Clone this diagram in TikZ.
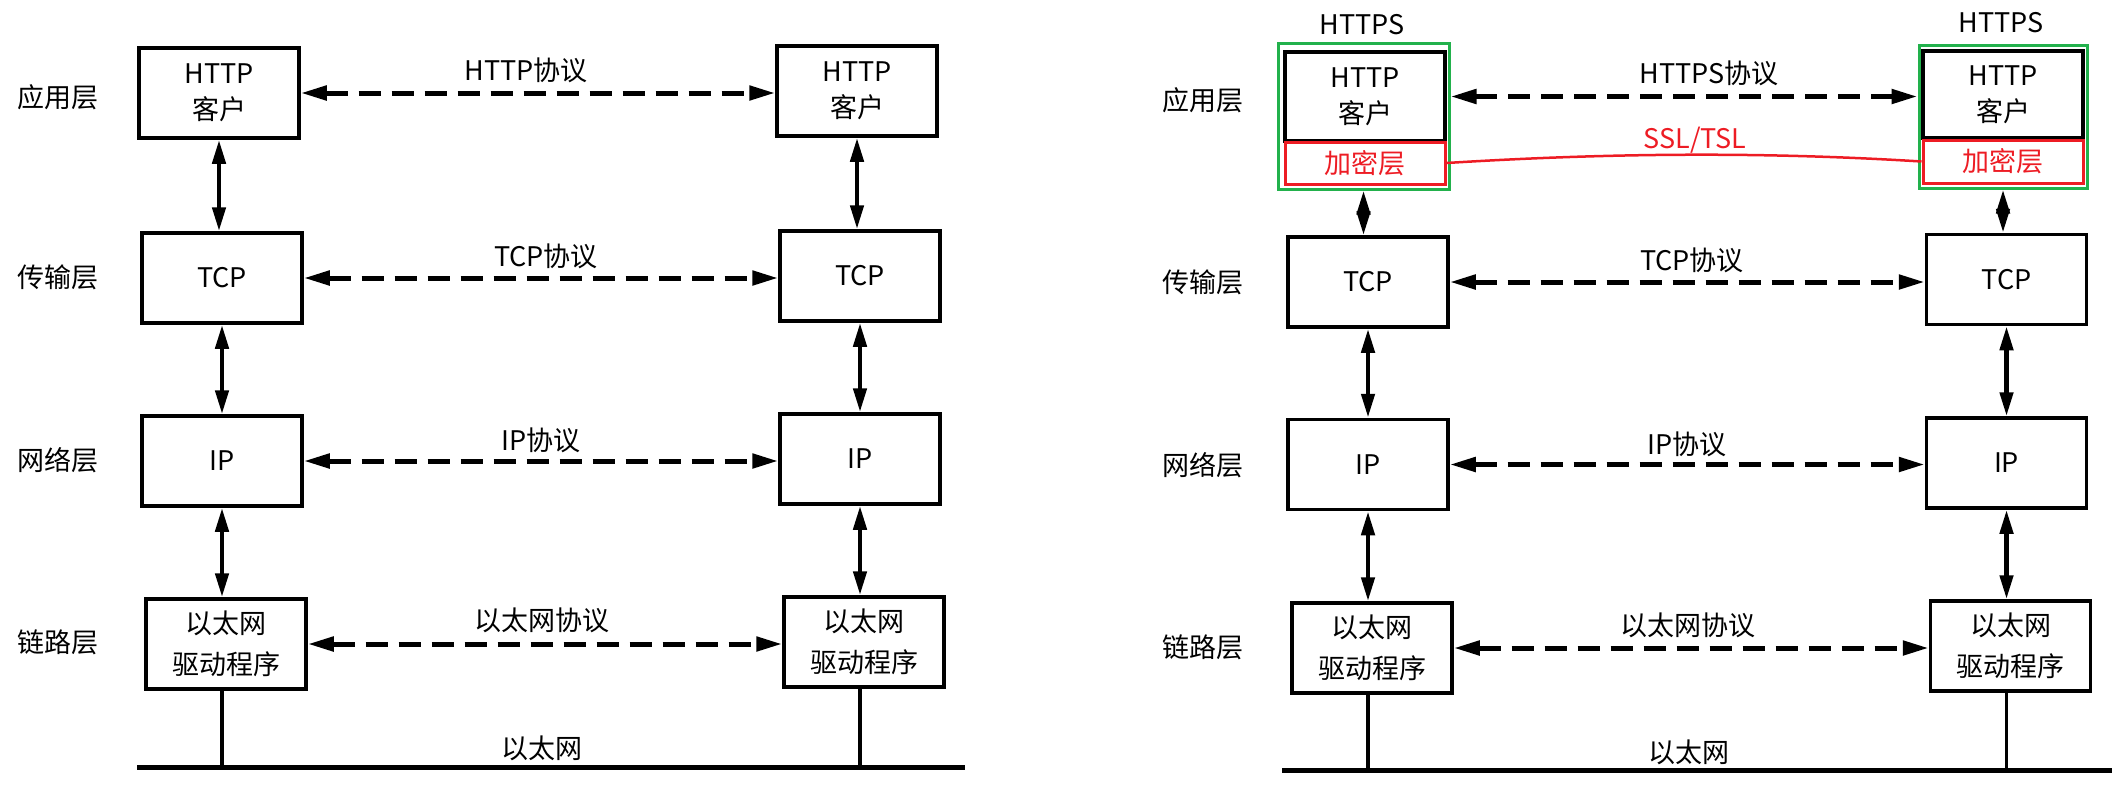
\documentclass[tikz,border=0pt]{standalone}
\usepackage{fontspec}
\setmainfont{Noto Sans CJK SC}
\usetikzlibrary{arrows.meta}
\definecolor{pgreen}{RGB}{34,177,76}
\definecolor{pred}{RGB}{237,28,36}
\newcommand\myfs{\fontsize{27}{36}\selectfont}
\tikzset{
  box/.style={draw, line width=3.5pt, minimum width=160pt, minimum height=90pt, inner sep=0pt, align=center, font=\myfs},
  lbl/.style={inner sep=0pt, font=\myfs},
  varrow/.style={line width=4.5pt, {Triangle[length=24pt,width=13pt]}-{Triangle[length=24pt,width=13pt]}},
  darrow/.style={line width=5pt, dash pattern=on 22pt off 11pt, {Triangle[length=26pt,width=14pt]}-{Triangle[length=26pt,width=14pt]}},
  wire/.style={line width=3.5pt},
  bus/.style={line width=5pt},
  gbox/.style={draw=pgreen, line width=3pt, inner sep=0pt},
  encbox/.style={draw=pred, line width=3pt, minimum width=160pt, minimum height=42pt, inner sep=0pt, text=pred, font=\myfs},
  redline/.style={draw=pred, line width=2.5pt}
}
\begin{document}
\begin{tikzpicture}[x=1pt,y=-1pt]
\useasboundingbox (0,0) rectangle (2120,788);
% ---------- left diagram ----------
\node[lbl] (la1) at (58,97) {应用层};
\node[lbl] (la2) at (58,277) {传输层};
\node[lbl] (la3) at (58,460) {网络层};
\node[lbl] (la4) at (58,642) {链路层};

\node[box] (httpL) at (219,93) {HTTP\\客户};
\node[box] (httpR) at (857,91) {HTTP\\客户};
\node[box] (tcpL) at (222,278) {TCP};
\node[box] (tcpR) at (860,276) {TCP};
\node[box] (ipL) at (222,461) {IP};
\node[box] (ipR) at (860,459) {IP};
\node[box,font=\fontsize{27}{41}\selectfont] (ethL) at (226,644) {以太网\\驱动程序};
\node[box,font=\fontsize{27}{41}\selectfont] (ethR) at (864,642) {以太网\\驱动程序};

\draw[varrow] (httpL.south) -- (httpL.south |- tcpL.north);
\draw[varrow] (httpR.south) -- (httpR.south |- tcpR.north);
\draw[varrow] (tcpL.south) -- (tcpL.south |- ipL.north);
\draw[varrow] (tcpR.south) -- (tcpR.south |- ipR.north);
\draw[varrow] (ipL.south) -- (ipL.south |- ethL.north);
\draw[varrow] (ipR.south) -- (ipR.south |- ethR.north);

\draw[darrow] (httpL.east) -- (httpL.east -| httpR.west);
\draw[darrow] (tcpL.east) -- (tcpL.east -| tcpR.west);
\draw[darrow] (ipL.east) -- (ipL.east -| ipR.west);
\draw[darrow] (ethL.east) -- (ethL.east -| ethR.west);

\node[lbl] (p1) at (526,70) {HTTP协议};
\node[lbl] (p2) at (546,256) {TCP协议};
\node[lbl] (p3) at (541,440) {IP协议};
\node[lbl] (p4) at (542,620) {以太网协议};

\coordinate (busA) at (137,767);
\coordinate (busB) at (965,767);
\draw[bus] (busA) -- (busB);
\draw[wire] (ipL.south |- ethL.south) -- (ipL.south |- busA);
\draw[wire] (ipR.south |- ethR.south) -- (ipR.south |- busA);
\node[lbl] (eth1) at (542,748) {以太网};

% ---------- right diagram ----------
\node[lbl] (lb1) at (1203,100) {应用层};
\node[lbl] (lb2) at (1203,282) {传输层};
\node[lbl] (lb3) at (1203,465) {网络层};
\node[lbl] (lb4) at (1203,647) {链路层};

\node[gbox, minimum width=171pt, minimum height=146pt] (gL) at (1363.5,116) {};
\node[gbox, minimum width=168pt, minimum height=143pt] (gR) at (2003,116.5) {};
\node[box, minimum height=89pt] (hL) at (1365,96.5) {HTTP\\客户};
\node[box, minimum height=87pt] (hR) at (2003,94.5) {HTTP\\客户};
\node[encbox] (eL) at (1365,163) {加密层};
\node[encbox, minimum height=43pt] (eR) at (2003,161.5) {加密层};
\node[lbl] (hsL) at (1362,25) {HTTPS};
\node[lbl] (hsR) at (2001,23) {HTTPS};

\node[box] (t2L) at (1368,282) {TCP};
\node[box] (t2R) at (2006.5,279.5) {TCP};
\node[box] (i2L) at (1368,464.5) {IP};
\node[box] (i2R) at (2006.5,463) {IP};
\node[box,font=\fontsize{27}{41}\selectfont] (e2L) at (1372,648) {以太网\\驱动程序};
\node[box,font=\fontsize{27}{41}\selectfont] (e2R) at (2010.5,646) {以太网\\驱动程序};

\draw[varrow] (gL.south) -- (gL.south |- t2L.north);
\draw[varrow] (gR.south) -- (gR.south |- t2R.north);
\draw[varrow] (t2L.south) -- (t2L.south |- i2L.north);
\draw[varrow] (t2R.south) -- (t2R.south |- i2R.north);
\draw[varrow] (i2L.south) -- (i2L.south |- e2L.north);
\draw[varrow] (i2R.south) -- (i2R.south |- e2R.north);

\draw[darrow] (gL.east |- hL.east) -- (gR.west |- hL.east);
\draw[darrow] (t2L.east) -- (t2L.east -| t2R.west);
\draw[darrow] (i2L.east) -- (i2L.east -| i2R.west);
\draw[darrow] (e2L.east) -- (e2L.east -| e2R.west);

\draw[redline] (eL.east) .. controls +(160,-10) and +(-160,-10) .. (eR.west);
\node[lbl, text=pred] (ssl) at (1695,140) {SSL/TSL};

\node[lbl] (q1) at (1709,73) {HTTPS协议};
\node[lbl] (q2) at (1692,260) {TCP协议};
\node[lbl] (q3) at (1687,444) {IP协议};
\node[lbl] (q4) at (1688,625) {以太网协议};

\coordinate (busC) at (1282,770);
\coordinate (busD) at (2112,770);
\draw[bus] (busC) -- (busD);
\draw[wire] (i2L.south |- e2L.south) -- (i2L.south |- busC);
\draw[wire] (i2R.south |- e2R.south) -- (i2R.south |- busC);
\node[lbl] (eth2) at (1689,752) {以太网};
\end{tikzpicture}
\end{document}
